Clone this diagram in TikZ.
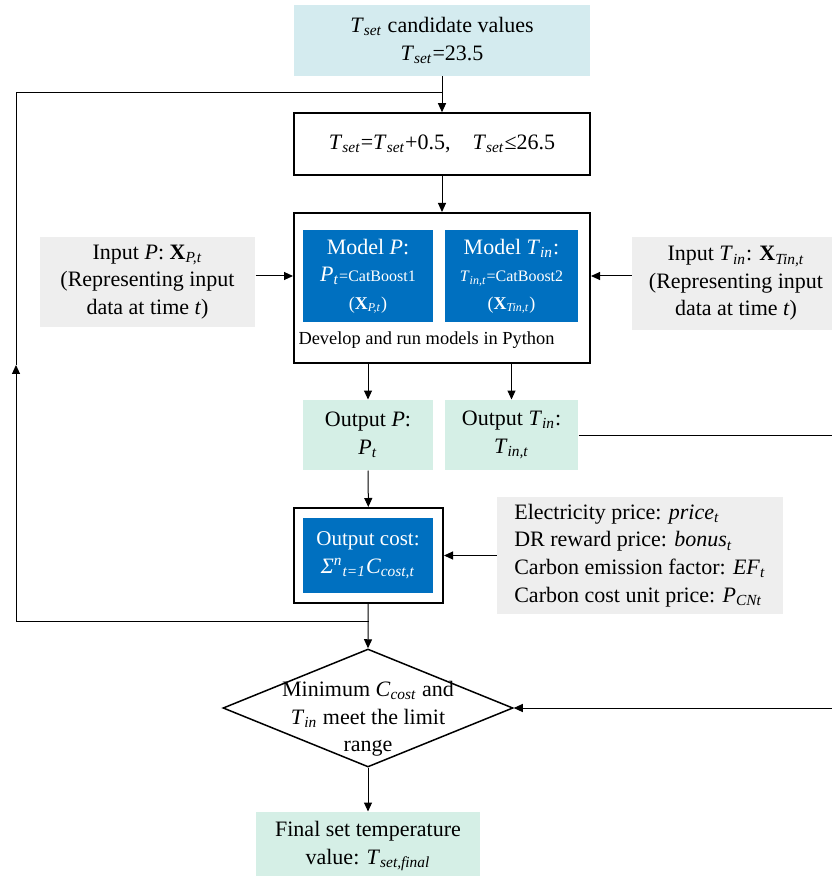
\documentclass[tikz,border=0pt]{standalone}
\usepackage{fontspec}
\setmainfont{Liberation Serif}
\usetikzlibrary{arrows.meta,shapes,positioning}
\definecolor{topcyan}{HTML}{D4EBEF}
\definecolor{outmint}{HTML}{D5EFE6}
\definecolor{ingrey}{HTML}{EEEEEE}
\definecolor{modelblue}{HTML}{0070C0}
\newcommand{\isub}[2]{\textit{#1}\textsubscript{\textit{#2}}}

\begin{document}
\begin{tikzpicture}[x=0.5pt,y=-0.5pt,line width=0.5pt,>={Triangle[length=4.5pt,width=4pt]},
    every node/.style={font=\fontsize{11}{13.8}\selectfont,inner sep=0pt,align=center},
    topbox/.style={fill=topcyan},
    plainbox/.style={draw,fill=white,line width=0.75pt},
    framebox/.style={draw,line width=1pt},
    bluebox/.style={fill=modelblue,text=white},
    greybox/.style={fill=ingrey},
    mintbox/.style={fill=outmint}]
    \useasboundingbox (0,0) rectangle (831,876);

    % main column
    \node[topbox,minimum width=148pt,minimum height=35.5pt] (tset) at (442,40.5)
      {\isub{T}{set} candidate values\\\isub{T}{set}=23.5};
    \node[plainbox,minimum width=148pt,minimum height=31pt] (step) at (442,144)
      {\isub{T}{set}=\isub{T}{set}+0.5,\quad \isub{T}{set}≤26.5};
    \node[framebox,minimum width=148pt,minimum height=75pt] (model) at (442,288) {};
    \node[bluebox,minimum width=65pt,minimum height=46pt] (modelP) at (368,276)
      {{\fontsize{11}{13}\selectfont Model \textit{P}:}\\
       \isub{P}{t}{\fontsize{8}{11}\selectfont=CatBoost1}\\
       {\fontsize{9}{11}\selectfont(\textbf{X}\textsubscript{\textit{P,t}})}};
    \node[bluebox,minimum width=66.5pt,minimum height=46pt] (modelT) at (511.5,276)
      {{\fontsize{11}{13}\selectfont Model \isub{T}{in}:}\\
       {\fontsize{8}{11}\selectfont\isub{T}{in,t}=CatBoost2}\\
       {\fontsize{9}{11}\selectfont(\textbf{X}\textsubscript{\textit{Tin,t}})}};
    \node[anchor=west,font=\fontsize{9.2}{10}\selectfont] (python) at (298,340)
      {Develop and run models in Python};

    % inputs
    \node[greybox,minimum width=107.5pt,minimum height=45pt] (inP) at (147.5,282)
      {Input \textit{P}: \textbf{X}\textsubscript{\textit{P,t}}\\(Representing input\\data at time \textit{t})};
    \node[greybox,minimum width=104pt,minimum height=46.5pt] (inT) at (736,283.5)
      {Input \isub{T}{in}: \textbf{X}\textsubscript{\textit{Tin,t}}\\(Representing input\\data at time \textit{t})};

    % outputs
    \node[mintbox,minimum width=65pt,minimum height=35pt] (outP) at (368,435)
      {Output \textit{P}:\\\isub{P}{t}};
    \node[mintbox,minimum width=66.5pt,minimum height=35pt] (outT) at (511.5,435)
      {Output \isub{T}{in}:\\\isub{T}{in,t}};

    % cost
    \node[framebox,minimum width=74.5pt,minimum height=47.5pt] (cost) at (368.5,555.5) {};
    \node[bluebox,minimum width=65pt,minimum height=37.5pt] (costin) at (368,555.5)
      {{\fontsize{10.5}{13}\selectfont Output cost:}\\
       \textit{Σ}\textsuperscript{\textit{n}}\textsubscript{\textit{t=1}}\textit{C}\textsubscript{\textit{cost,t}}};
    \node[greybox,minimum width=143pt,minimum height=58.5pt,align=left] (price) at (640,555.5)
      {Electricity price: \isub{price}{t}\\
       DR reward price: \isub{bonus}{t}\\
       Carbon emission factor: \isub{EF}{t}\\
       Carbon cost unit price: \isub{P}{CNt}};

    % decision and result
    \node[diamond,draw,line width=0.75pt,minimum width=145pt,minimum height=59pt] (check) at (368,708) {};
    \node (checktxt) at (368,719)
      {Minimum \isub{C}{cost} and\\\isub{T}{in} meet the limit\\range};
    \node[mintbox,minimum width=112pt,minimum height=34pt] (final) at (368,846)
      {Final set temperature\\value: \isub{T}{set,final}};

    \coordinate (ltop) at (16,93);
    \coordinate (lmid) at (16,365);
    \coordinate (lbot) at (16,621);
    \coordinate (rtop) at (840,435);
    \coordinate (rbot) at (840,708);

    % connectors
    \draw[->] (tset) -- (step);
    \draw[->] (step) -- (model);
    \draw[->] (inP.east |- modelP) -- (model.west |- modelP);
    \draw[->] (inT.west |- modelT) -- (model.east |- modelT);
    \foreach \m/\o in {modelP/outP, modelT/outT}
      \draw[->] (model.south -| \m) -- (\o);
    \draw[->] (outP) -- (cost);
    \draw[->] (price.west |- cost) -- (cost.east);
    \draw[->] (cost) -- (check.north);
    \draw[->] (check.south) -- (final);
    \draw[->] (cost.south |- lbot) -- (lbot) -- (lmid);
    \draw (lmid) -- (ltop) -- (ltop -| tset);
    \draw[->] (outT.east) -- (rtop) -- (rbot) -- (check.east);
  \end{tikzpicture}
\end{document}
